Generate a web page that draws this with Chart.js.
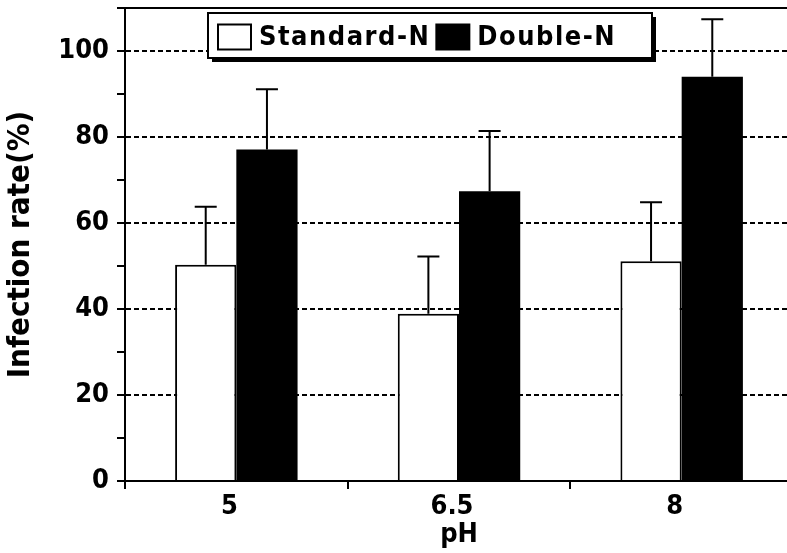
<!DOCTYPE html>
<html>
<head>
<meta charset="utf-8">
<title>Infection rate by pH</title>
<script src="https://cdn.jsdelivr.net/npm/chart.js@4"></script>
<style>
    html, body { margin: 0; padding: 0; background: #fff; overflow: hidden; }
    #wrap { width: 800px; height: 553px; }
</style>
</head>
<body>
<div id="wrap"><canvas id="rateChart" width="800" height="553"></canvas></div>
<script>
// --- data ---
const phLabels = ['5', '6.5', '8'];
const standardN = [50.3, 38.9, 51.1];
const standardErr = [13.5, 13.3, 13.7];
const doubleN = [77.1, 67.4, 94.0];
const doubleErr = [14.0, 14.0, 13.4];

const FONT = "'DejaVu Sans Condensed', 'DejaVu Sans', sans-serif";

// upward-only error bars, drawn from the y scale
const errorBarPlugin = {
    id: 'errorBars',
    afterDatasetsDraw(chart) {
        const ctx = chart.ctx;
        const yScale = chart.scales.y;
        ctx.save();
        ctx.strokeStyle = '#000';
        ctx.lineWidth = 2;
        chart.data.datasets.forEach((ds, di) => {
            const meta = chart.getDatasetMeta(di);
            meta.data.forEach((bar, i) => {
                const topY = yScale.getPixelForValue(ds.data[i] + ds.errors[i]);
                ctx.beginPath();
                ctx.moveTo(bar.x, bar.y);
                ctx.lineTo(bar.x, topY);
                ctx.moveTo(bar.x - 11, topY);
                ctx.lineTo(bar.x + 11, topY);
                ctx.stroke();
            });
        });
        ctx.restore();
    }
};

// top frame line + boxed legend inside the plot
const framePlugin = {
    id: 'frameLegend',
    afterDraw(chart) {
        const ctx = chart.ctx;
        const area = chart.chartArea;
        ctx.save();
        ctx.strokeStyle = '#000';
        ctx.lineWidth = 2;
        ctx.beginPath();
        ctx.moveTo(area.left, area.top);
        ctx.lineTo(area.right, area.top);
        ctx.stroke();

        // legend box
        const bx = area.left + 83, by = area.top + 5, bw = 444, bh = 45;
        ctx.fillStyle = '#000';
        ctx.fillRect(bx + 4, by + 4, bw, bh);
        ctx.fillStyle = '#fff';
        ctx.fillRect(bx, by, bw, bh);
        ctx.strokeRect(bx, by, bw, bh);

        ctx.font = 'bold 27px ' + FONT;
        ctx.letterSpacing = '1.5px';
        ctx.textBaseline = 'middle';
        ctx.textAlign = 'left';
        let x = bx + 10;
        const cy = by + bh / 2 + 1;
        chart.data.datasets.forEach(ds => {
            ctx.fillStyle = ds.backgroundColor;
            ctx.fillRect(x, cy - 12, 33, 25);
            ctx.strokeRect(x, cy - 12, 33, 25);
            x += 41;
            ctx.fillStyle = '#000';
            ctx.fillText(ds.label, x, cy + 1);
            x += ctx.measureText(ds.label).width + 6;
        });
        ctx.restore();
    }
};

function gridColor(c) {
    const v = c.tick.value;
    return (v > 0 && v <= 100 && v % 20 === 0) ? '#000' : 'rgba(0,0,0,0)';
}

new Chart(document.getElementById('rateChart'), {
    type: 'bar',
    data: {
        labels: phLabels,
        datasets: [
            {
                label: 'Standard-N',
                data: standardN,
                errors: standardErr,
                backgroundColor: '#fff',
                borderColor: '#000',
                borderWidth: 2
            },
            {
                label: 'Double-N',
                data: doubleN,
                errors: doubleErr,
                backgroundColor: '#000',
                borderColor: '#000',
                borderWidth: 0
            }
        ]
    },
    options: {
        responsive: false,
        animation: false,
        devicePixelRatio: 1,
        layout: { padding: { top: 8, right: 7, left: 0, bottom: 0 } },
        categoryPercentage: 0.55,
        barPercentage: 1,
        plugins: {
            legend: { display: false },
            tooltip: { enabled: false }
        },
        scales: {
            x: {
                afterFit(scale) {
                    scale.height = 72;
                    scale.paddingLeft = 0;
                    scale.paddingRight = 0;
                },
                grid: { drawOnChartArea: false, offset: true, color: '#000', tickLength: 8, lineWidth: 2 },
                border: { color: '#000', width: 2 },
                ticks: {
                    color: '#000',
                    font: { family: FONT, size: 27, weight: 'bold' },
                    padding: 2,
                    labelOffset: -7
                },
                title: {
                    display: true,
                    text: 'pH',
                    color: '#000',
                    font: { family: FONT, size: 27, weight: 'bold', lineHeight: 1.2 },
                    padding: 2
                }
            },
            y: {
                min: 0,
                max: 110,
                afterFit(scale) {
                    scale.width = 125;
                    scale.paddingTop = 0;
                    scale.paddingBottom = 0;
                },
                grid: {
                    color: gridColor,
                    lineWidth: 2,
                    tickColor: '#000',
                    tickLength: 8,
                    tickBorderDash: [],
                    tickWidth: 2
                },
                border: { color: '#000', width: 2, dash: [5, 3] },
                ticks: {
                    stepSize: 10,
                    autoSkip: false,
                    color: '#000',
                    padding: 8,
                    font: { family: FONT, size: 27, weight: 'bold' },
                    callback: v => (v % 20 === 0 && v <= 100) ? String(v) : ''
                },
                title: {
                    display: true,
                    text: 'Infection rate(%)',
                    color: '#000',
                    font: { family: FONT, size: 31, weight: 'bold', lineHeight: 1.2 },
                    padding: 2
                }
            }
        }
    },
    plugins: [errorBarPlugin, framePlugin]
});
</script>
</body>
</html>
